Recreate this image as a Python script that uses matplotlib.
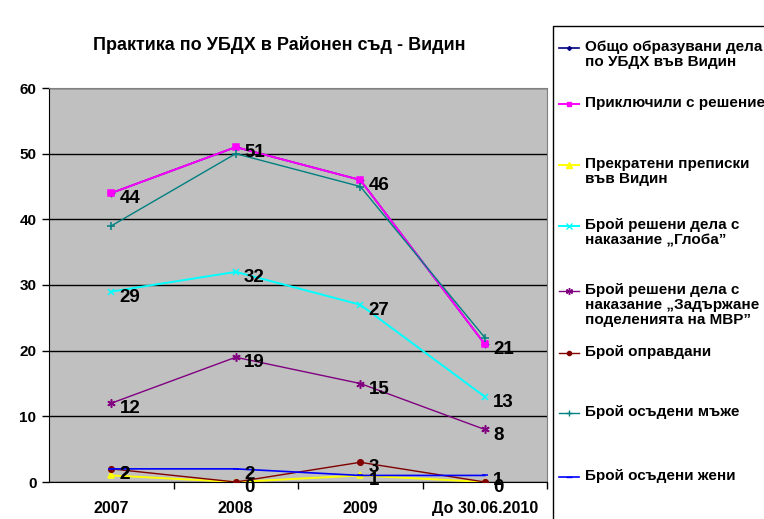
import matplotlib
matplotlib.use("Agg")
import matplotlib.pyplot as plt
from matplotlib.lines import Line2D
from matplotlib.patches import Rectangle

plt.rcParams['font.family'] = ['Liberation Sans', 'DejaVu Sans']

categories = ["2007", "2008", "2009", "До 30.06.2010"]
obshto = [44, 51, 46, 21]
priklyuchili = [44, 51, 46, 21]
prekrateni = [1, 0, 1, 0]
globa = [29, 32, 27, 13]
zadarzhane = [12, 19, 15, 8]
opravdani = [2, 0, 3, 0]
mazhe = [39, 50, 45, 22]
zheni = [2, 2, 1, 1]

series_labels = [
    "Общо образувани дела\nпо УБДХ във Видин",
    "Приключили с решение",
    "Прекратени преписки\nвъв Видин",
    "Брой решени дела с\nнаказание „Глоба”",
    "Брой решени дела с\nнаказание „Задържане в\nподеленията на МВР”",
    "Брой оправдани",
    "Брой осъдени мъже",
    "Брой осъдени жени",
]

W, H = 764, 519
fig = plt.figure(figsize=(W / 100, H / 100), dpi=100)
ax = fig.add_axes([49 / W, 1 - 482 / H, (547 - 49) / W, (482 - 88) / H])
ax.set_facecolor("#C0C0C0")

x = list(range(len(categories)))
styles = [
    (obshto, "#000080", "D", 3, 1.2),
    (priklyuchili, "#FF00FF", "s", 4, 1.4),
    (prekrateni, "#FFFF00", "^", 5, 1.4),
    (globa, "#00FFFF", "x", 5, 1.4),
    (zadarzhane, "#800080", (6, 2, 0), 6, 1.0),
    (opravdani, "#800000", "o", 4, 1.0),
    (mazhe, "#008080", "+", 6, 1.0),
    (zheni, "#0000FF", "_", 5, 1.2),
]
order = [0, 2, 6, 3, 4, 5, 7, 1]
for i in order:
    vals, col, mk, ms, lw = styles[i]
    ax.plot(x, vals, color=col, marker=mk, markersize=ms, lw=lw,
            markeredgewidth=1.1, zorder=3 + i * 0.1)

label_series = [priklyuchili, globa, zadarzhane, opravdani, zheni]
for vals in label_series:
    for xi, v in zip(x, vals):
        ax.annotate(str(v), (xi, v), xytext=(6, -4), textcoords="offset points",
                    ha="left", va="center", fontsize=13.5, fontweight="bold",
                    color="black", zorder=10)

ax.set_xlim(-0.5, 3.5)
ax.set_ylim(0, 60)
ax.set_yticks(range(0, 61, 10))
ax.set_yticklabels([str(v) for v in range(0, 61, 10)], fontsize=11, fontweight="bold")
ax.set_xticks(x)
ax.set_xticklabels(categories, fontsize=11.5, fontweight="bold")
ax.set_xticks([0.5, 1.5, 2.5, 3.5], minor=True)
ax.tick_params(axis="x", which="major", length=0, pad=14)
ax.tick_params(axis="x", which="minor", length=5, width=1, direction="out")
ax.tick_params(axis="y", length=5, width=1, direction="out", pad=4)
ax.yaxis.grid(True, color="black", lw=1)
ax.set_axisbelow(True)
for s in ["top", "right"]:
    ax.spines[s].set_color("#808080")
for s in ["left", "bottom"]:
    ax.spines[s].set_color("black")

fig.text(279 / W, 1 - 45 / H, "Практика по УБДХ в Районен съд - Видин",
         ha="center", va="center", fontsize=13, fontweight="bold")

# legend box
fig.add_artist(Rectangle((553 / W, -0.1), 0.5, 1 - 26 / H + 0.1,
                         transform=fig.transFigure, fill=False,
                         edgecolor="black", lw=1))
leg_first = [48, 104, 165, 226, 291, 353, 413, 477]
for i, (vals, col, mk, ms, lw) in enumerate(styles):
    yy = 1 - leg_first[i] / H
    fig.add_artist(Line2D([559 / W, 579 / W], [yy, yy], transform=fig.transFigure,
                          color=col, lw=lw))
    fig.add_artist(Line2D([569 / W], [yy], transform=fig.transFigure,
                          color=col, marker=mk, markersize=ms - 1, lw=0,
                          markeredgewidth=1))
    fig.text(585 / W, yy + 8 / H, series_labels[i], ha="left", va="top",
             fontsize=11, fontweight="bold", linespacing=1.1)

fig.savefig("out.png", dpi=100)
